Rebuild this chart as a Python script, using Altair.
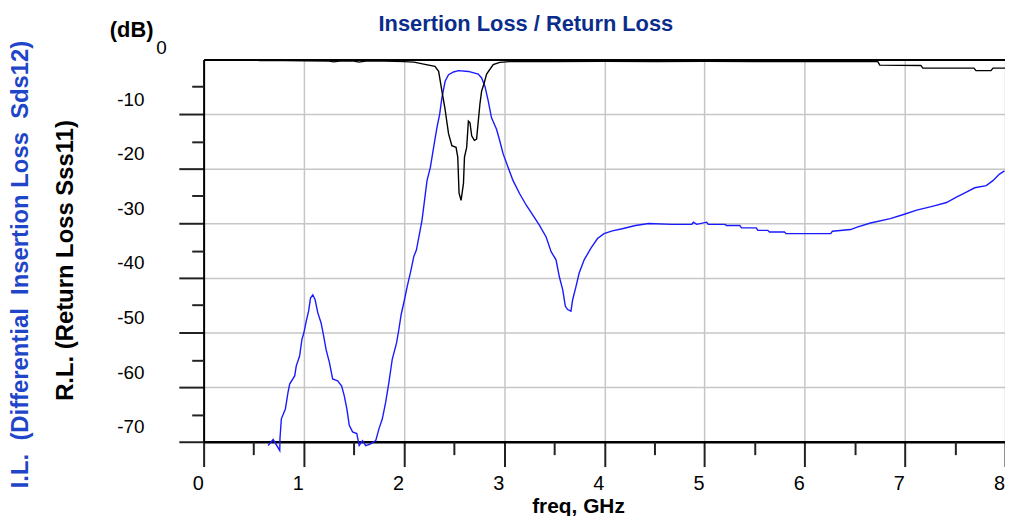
import altair as alt
import pandas as pd

# I.L. (blue) series: frequency in GHz, level in dB
il_freq = [0.644, 0.694, 0.760, 0.762, 0.776, 0.816, 0.842, 0.859, 0.909, 0.925,
           0.958, 0.981, 1.001, 1.024, 1.048, 1.067, 1.090, 1.113, 1.140, 1.172,
           1.199, 1.222, 1.256, 1.288, 1.338, 1.378, 1.404, 1.430, 1.454, 1.487,
           1.529, 1.553, 1.586, 1.618, 1.668, 1.718, 1.751, 1.784, 1.817, 1.850,
           1.883, 1.926, 1.949, 1.972, 2.005, 2.032, 2.064, 2.098, 2.124, 2.180,
           2.230, 2.263, 2.296, 2.329, 2.356, 2.379, 2.411, 2.445, 2.495, 2.544,
           2.643, 2.742, 2.775, 2.808, 2.841, 2.874, 2.924, 2.956, 2.990, 3.040,
           3.089, 3.155, 3.221, 3.287, 3.353, 3.419, 3.469, 3.518, 3.551, 3.585,
           3.611, 3.634, 3.667, 3.684, 3.717, 3.749, 3.799, 3.865, 3.932, 3.997,
           4.080, 4.179, 4.311, 4.443, 4.675, 4.873, 4.889, 4.923, 5.022, 5.038,
           5.203, 5.220, 5.352, 5.369, 5.517, 5.533, 5.632, 5.649, 5.798, 5.815,
           6.261, 6.277, 6.459, 6.524, 6.657, 6.855, 6.987, 7.119, 7.284, 7.416,
           7.515, 7.614, 7.698, 7.813, 7.879, 7.945, 7.995]
il_db = [-70.7, -69.6, -71.6, -69.45, -65.8, -64.0, -61.0, -59.45, -57.95, -56.1,
         -54.3, -51.3, -50.05, -47.95, -46.1, -43.7, -43.1, -44.0, -46.4, -48.2,
         -50.7, -53.1, -55.5, -58.5, -58.85, -59.8, -61.6, -64.0, -67.0, -68.2,
         -68.5, -70.7, -69.8, -70.7, -70.4, -69.8, -67.6, -65.8, -62.8, -59.1,
         -54.9, -51.9, -49.45, -46.7, -44.0, -41.6, -39.1, -36.1, -34.9, -29.45,
         -22.2, -19.8, -16.1, -12.5, -10.05, -7.0, -4.0, -2.8, -2.3, -2.05,
         -2.2, -2.7, -3.4, -4.9, -7.6, -10.7, -12.8, -14.9, -17.3, -19.8,
         -22.2, -24.6, -26.7, -28.5, -30.4, -32.5, -35.2, -36.7, -39.8, -42.2,
         -45.2, -45.8, -46.1, -44.0, -41.6, -39.1, -36.7, -34.6, -32.8, -31.9,
         -31.4, -31.0, -30.4, -30.05, -30.2, -30.2, -29.8, -30.2, -29.8, -30.2,
         -30.2, -30.4, -30.4, -30.85, -30.85, -31.3, -31.3, -31.6, -31.6, -31.9,
         -31.9, -31.45, -31.15, -30.7, -29.95, -29.15, -28.4, -27.6, -26.85, -26.2,
         -25.2, -24.3, -23.5, -23.1, -22.2, -21.0, -20.4]

# R.L. (black) series
rl_freq = [0.55, 0.8, 1.0, 1.25, 1.3, 1.36, 1.5, 1.55, 1.62, 1.8,
           2.0, 2.1, 2.197, 2.309, 2.346, 2.379, 2.408, 2.445, 2.478, 2.52,
           2.537, 2.55, 2.57, 2.594, 2.604, 2.626, 2.643, 2.659, 2.676, 2.703,
           2.725, 2.742, 2.758, 2.775, 2.798, 2.825, 2.891, 2.956, 3.05, 3.5,
           4.0, 4.5, 5.0, 5.5, 6.0, 6.5, 6.73, 6.75, 7.16, 7.18,
           7.69, 7.71, 7.86, 7.88, 8.0]
rl_db = [-0.2, -0.2, -0.25, -0.3, -0.45, -0.3, -0.3, -0.5, -0.3, -0.3,
         -0.4, -0.5, -0.85, -1.27, -2.18, -5.8, -8.85, -13.6, -15.8, -16.1,
         -17.9, -24.5, -25.8, -22.7, -17.9, -16.1, -11.3, -11.6, -14.0, -14.8,
         -14.6, -11.3, -8.2, -5.8, -4.5, -2.7, -0.96, -0.55, -0.4, -0.4,
         -0.35, -0.4, -0.35, -0.4, -0.4, -0.4, -0.4, -1.05, -1.1, -1.6,
         -1.6, -2.05, -2.05, -1.6, -1.6]

x_major = [0, 1, 2, 3, 4, 5, 6, 7, 8]
x_minor = [0.5, 1.5, 2.5, 3.5, 4.5, 5.5, 6.5, 7.5]
y_major = [-70, -60, -50, -40, -30, -20, -10]
y_minor = [-65, -55, -45, -35, -25, -15, -5]
y_top = [0]

il = pd.DataFrame({"freq": il_freq, "db": il_db})
rl = pd.DataFrame({"freq": rl_freq, "db": rl_db})

FONT = "Liberation Sans"
NB = "\u00a0"
xs = alt.Scale(domain=[0, 8], nice=False, zero=False)
ys = alt.Scale(domain=[-70, 0], nice=False, zero=False)

layer_a = alt.Chart(il).mark_line(color="#1a1aff", strokeWidth=1.4).encode(
    x=alt.X("freq:Q", scale=xs, axis=alt.Axis(
        orient="bottom", values=x_major, labelExpr="'' + datum.value",
        tickSize=25, tickWidth=2, tickColor="#222",
        labelFont=FONT, labelFontSize=20, labelColor="black",
        labelPadding=7, labelOffset=-6, labelFlush=False, labelOverlap=False,
        domainColor="black", domainWidth=2.5,
        grid=True, gridColor="#c6c6c6", gridWidth=1.5,
        title="freq, GHz", titleFont=FONT, titleFontSize=21, titleFontWeight="bold",
        titleColor="black", titleX=377, titleY=71, titleBaseline="alphabetic",
        titleAlign="center")),
    y=alt.Y("db:Q", scale=ys, axis=alt.Axis(
        orient="left", values=y_major, labelExpr="'' + datum.value",
        tickSize=25, tickWidth=2, tickColor="#222",
        labelFont=FONT, labelFontSize=19, labelColor="black",
        labelPadding=35, labelOffset=-15, labelFlush=False, labelOverlap=False,
        domainColor="black", domainWidth=2,
        grid=True, gridColor="#c6c6c6", gridWidth=1.5,
        title="R.L. (Return Loss Sss11)", titleFont=FONT, titleFontSize=24,
        titleFontWeight="bold", titleColor="black", titleAngle=270,
        titleX=-132, titleY=202, titleBaseline="alphabetic", titleAlign="center")),
)

layer_b = alt.Chart(rl).mark_line(color="black", strokeWidth=1.4).encode(
    x=alt.X("freq:Q", scale=xs, axis=alt.Axis(
        orient="bottom", values=x_minor, tickSize=13, tickWidth=2, tickColor="#222",
        labels=False, domain=False, grid=False, title=None)),
    y=alt.Y("db:Q", scale=ys, axis=alt.Axis(
        orient="left", values=y_minor, tickSize=12, tickWidth=2, tickColor="#222",
        labels=False, domain=False, grid=False,
        title="I.L." + NB + " (Differential" + NB + " Insertion Loss" + NB + " Sds12)",
        titleFont=FONT, titleFontSize=24, titleFontWeight="bold", titleColor="#1f45c8",
        titleAngle=270, titleX=-177, titleY=206, titleBaseline="alphabetic",
        titleAlign="center")),
)

layer_c = alt.Chart(il).mark_line(strokeOpacity=0).encode(
    x=alt.X("freq:Q", scale=xs, axis=alt.Axis(
        orient="top", values=y_top, labelExpr="'' + datum.value", ticks=False, tickSize=0,
        labelFont=FONT, labelFontSize=19, labelColor="black",
        labelPadding=6, labelOffset=-43, labelBaseline="alphabetic",
        labelFlush=False, labelOverlap=False,
        domainColor="black", domainWidth=2, grid=False,
        title="(dB)", titleFont=FONT, titleFontSize=22, titleFontWeight="bold",
        titleColor="black", titleX=-73, titleY=-23, titleBaseline="alphabetic",
        titleAlign="center")),
    y=alt.Y("db:Q", scale=ys, axis=None),
)

chart = alt.layer(layer_a, layer_b, layer_c).resolve_axis(
    x="independent", y="independent"
).properties(
    width=807, height=385,
    autosize=alt.AutoSizeParams(type="none"),
    padding={"left": 197, "top": 50, "right": 0, "bottom": 73},
    title=alt.TitleParams("Insertion Loss / Return Loss", font=FONT, fontSize=22,
                          fontWeight="bold", color="#0a2d8c", anchor="middle",
                          dx=-79, dy=38, baseline="alphabetic"),
).configure_view(stroke=None).configure(background="white")

chart.save("out.html", embed_options={"renderer": "svg", "actions": False})
